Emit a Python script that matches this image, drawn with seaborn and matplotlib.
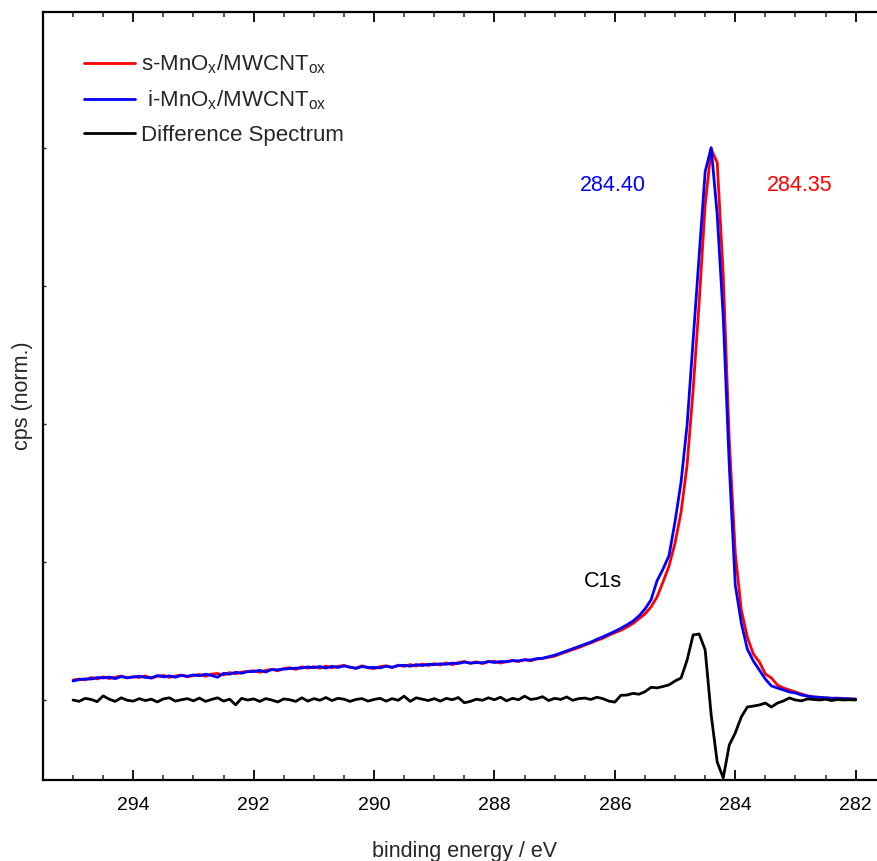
import numpy as np
import pandas as pd
import matplotlib
matplotlib.use("Agg")
import matplotlib.pyplot as plt
import seaborn as sns

# ---------------- data ----------------
energy = [295.0, 294.9, 294.8, 294.7, 294.6, 294.5, 294.4, 294.3, 294.2, 294.1,
          294.0, 293.9, 293.8, 293.7, 293.6, 293.5, 293.4, 293.3, 293.2, 293.1,
          293.0, 292.9, 292.8, 292.7, 292.6, 292.5, 292.4, 292.3, 292.2, 292.1,
          292.0, 291.9, 291.8, 291.7, 291.6, 291.5, 291.4, 291.3, 291.2, 291.1,
          291.0, 290.9, 290.8, 290.7, 290.6, 290.5, 290.4, 290.3, 290.2, 290.1,
          290.0, 289.9, 289.8, 289.7, 289.6, 289.5, 289.4, 289.3, 289.2, 289.1,
          289.0, 288.9, 288.8, 288.7, 288.6, 288.5, 288.4, 288.3, 288.2, 288.1,
          288.0, 287.9, 287.8, 287.7, 287.6, 287.5, 287.4, 287.3, 287.2, 287.1,
          287.0, 286.9, 286.8, 286.7, 286.6, 286.5, 286.4, 286.3, 286.2, 286.1,
          286.0, 285.9, 285.8, 285.7, 285.6, 285.5, 285.4, 285.3, 285.2, 285.1,
          285.0, 284.9, 284.8, 284.7, 284.6, 284.5, 284.4, 284.3, 284.2, 284.1,
          284.0, 283.9, 283.8, 283.7, 283.6, 283.5, 283.4, 283.3, 283.2, 283.1,
          283.0, 282.9, 282.8, 282.7, 282.6, 282.5, 282.4, 282.3, 282.2, 282.1,
          282.0]

s_mnox = [0.145, 0.152, 0.146, 0.163, 0.153, 0.168, 0.156, 0.165, 0.174, 0.160,
          0.170, 0.163, 0.175, 0.158, 0.172, 0.178, 0.164, 0.174, 0.181, 0.168,
          0.178, 0.185, 0.172, 0.188, 0.192, 0.181, 0.199, 0.190, 0.203, 0.207,
          0.212, 0.201, 0.215, 0.222, 0.212, 0.229, 0.234, 0.222, 0.241, 0.231,
          0.242, 0.230, 0.246, 0.234, 0.244, 0.251, 0.236, 0.232, 0.248, 0.234,
          0.228, 0.242, 0.248, 0.235, 0.253, 0.244, 0.257, 0.246, 0.261, 0.250,
          0.264, 0.253, 0.269, 0.256, 0.272, 0.279, 0.266, 0.277, 0.264, 0.278,
          0.280, 0.268, 0.278, 0.287, 0.279, 0.293, 0.285, 0.297, 0.302, 0.310,
          0.318, 0.335, 0.350, 0.366, 0.380, 0.398, 0.414, 0.432, 0.448, 0.470,
          0.488, 0.506, 0.528, 0.555, 0.590, 0.624, 0.675, 0.747, 0.856, 0.972,
          1.139, 1.364, 1.705, 2.250, 2.881, 3.592, 3.995, 3.897, 3.084, 1.887,
          1.067, 0.653, 0.457, 0.334, 0.276, 0.189, 0.160, 0.109, 0.087, 0.073,
          0.058, 0.044, 0.029, 0.022, 0.018, 0.015, 0.012, 0.014, 0.010, 0.008,
          0.007]

i_mnox = [0.138, 0.148, 0.153, 0.152, 0.163, 0.160, 0.166, 0.155, 0.170, 0.162,
          0.166, 0.173, 0.164, 0.161, 0.177, 0.168, 0.175, 0.165, 0.179, 0.172,
          0.182, 0.176, 0.187, 0.178, 0.165, 0.194, 0.187, 0.201, 0.194, 0.206,
          0.206, 0.215, 0.203, 0.221, 0.219, 0.224, 0.228, 0.231, 0.232, 0.240,
          0.234, 0.243, 0.231, 0.245, 0.236, 0.247, 0.239, 0.229, 0.243, 0.236,
          0.236, 0.233, 0.245, 0.238, 0.249, 0.252, 0.245, 0.257, 0.250, 0.259,
          0.256, 0.263, 0.259, 0.267, 0.265, 0.275, 0.268, 0.271, 0.270, 0.279,
          0.272, 0.279, 0.278, 0.285, 0.284, 0.291, 0.290, 0.300, 0.303, 0.314,
          0.325, 0.340, 0.356, 0.372, 0.388, 0.404, 0.420, 0.440, 0.458, 0.478,
          0.498, 0.520, 0.545, 0.572, 0.610, 0.660, 0.726, 0.864, 0.950, 1.048,
          1.296, 1.582, 1.996, 2.612, 3.222, 3.832, 4.006, 3.520, 2.779, 1.705,
          0.835, 0.559, 0.370, 0.283, 0.218, 0.152, 0.102, 0.087, 0.073, 0.058,
          0.051, 0.036, 0.029, 0.022, 0.020, 0.016, 0.013, 0.012, 0.010, 0.008,
          0.006]

difference = [0.000, -0.010, 0.012, 0.004, -0.012, 0.030, 0.006, -0.010, 0.016, -0.002,
              -0.008, 0.010, -0.004, 0.006, -0.014, 0.008, 0.016, -0.008, 0.002, 0.010,
              -0.006, 0.014, -0.010, 0.004, 0.016, -0.008, 0.006, -0.035, 0.012, 0.000,
              0.008, -0.010, 0.010, 0.000, -0.014, 0.008, 0.002, -0.010, 0.016, -0.008,
              0.010, -0.002, 0.018, -0.004, 0.012, 0.006, -0.010, 0.004, 0.010, -0.008,
              0.004, 0.012, -0.008, 0.010, -0.002, 0.028, -0.010, 0.016, 0.006, -0.004,
              0.010, -0.008, 0.012, 0.002, 0.018, -0.020, -0.010, 0.006, -0.002, 0.016,
              0.002, 0.020, -0.006, 0.012, 0.002, 0.028, 0.004, 0.010, 0.024, -0.004,
              0.012, 0.004, 0.022, -0.002, 0.010, 0.014, 0.004, 0.020, 0.010, -0.008,
              -0.015, 0.034, 0.036, 0.048, 0.042, 0.060, 0.092, 0.088, 0.098, 0.110,
              0.138, 0.160, 0.290, 0.472, 0.479, 0.363, -0.109, -0.450, -0.565, -0.327,
              -0.239, -0.123, -0.051, -0.044, -0.036, -0.022, -0.051, -0.022, -0.007, 0.015,
              0.000, -0.006, 0.008, 0.004, 0.000, 0.006, -0.004, 0.004, 0.000, 0.002,
              0.000]

series_labels = ["s-MnO$_\\mathregular{x}$/MWCNT$_\\mathregular{ox}$",
                 " i-MnO$_\\mathregular{x}$/MWCNT$_\\mathregular{ox}$",
                 "Difference Spectrum"]
series_colors = ["#ff0000", "#0000ff", "#000000"]
peak_labels = ["284.40", "284.35"]
x_ticks = [294, 292, 290, 288, 286, 284, 282]

# ---------------- style ----------------
sns.set_theme(style="ticks")
plt.rcParams["font.family"] = ["Liberation Sans", "DejaVu Sans"]
plt.rcParams["mathtext.fontset"] = "custom"
plt.rcParams["mathtext.rm"] = "Liberation Sans"
plt.rcParams["mathtext.it"] = "Liberation Sans"

fig = plt.figure(figsize=(8.77, 8.61), dpi=100)
ax = fig.add_axes([0.049, 0.0941, 0.961, 0.892])

df = pd.DataFrame({"energy": energy, "s": s_mnox, "i": i_mnox, "d": difference})
for col, lab, colr in zip(["s", "i", "d"], series_labels, series_colors):
    sns.lineplot(data=df, x="energy", y=col, ax=ax, color=colr, lw=2.0,
                 label=lab, sort=False)

ax.set_xlim(295.5, 281.5)
ax.set_ylim(-0.58, 4.99)
ax.set_xticks(x_ticks)
ax.set_xticks(np.arange(281.5, 295.51, 0.5), minor=True)
ax.set_yticks([0, 1, 2, 3, 4])
ax.set_yticklabels([])
ax.tick_params(axis="x", which="major", direction="in", length=7, width=1.3,
               top=True, labelsize=14, pad=12, colors="black")
ax.tick_params(axis="x", which="minor", direction="in", length=3.5, width=1.1,
               top=True)
ax.tick_params(axis="y", which="major", direction="in", length=2.5, width=1.0,
               left=True, right=False)
for sp in ax.spines.values():
    sp.set_linewidth(1.6)
    sp.set_color("black")

ax.set_xlabel("binding energy / eV", fontsize=15.5, labelpad=20)
ax.set_ylabel("cps (norm.)", fontsize=15.5, labelpad=4)

ax.text(286.03, 3.73, peak_labels[0], color="blue", fontsize=15.5,
        ha="center", va="center")
ax.text(282.93, 3.73, peak_labels[1], color="red", fontsize=15.5,
        ha="center", va="center")
ax.text(286.2, 0.86, "C1s", color="black", fontsize=15.5, ha="center",
        va="center")

leg = ax.legend(loc="upper left", bbox_to_anchor=(0.0486, 0.947), frameon=False,
                fontsize=16, handlelength=2.3, handletextpad=0.27,
                labelspacing=0.56, borderpad=0, borderaxespad=0)

fig.savefig("out.png", dpi=100)
